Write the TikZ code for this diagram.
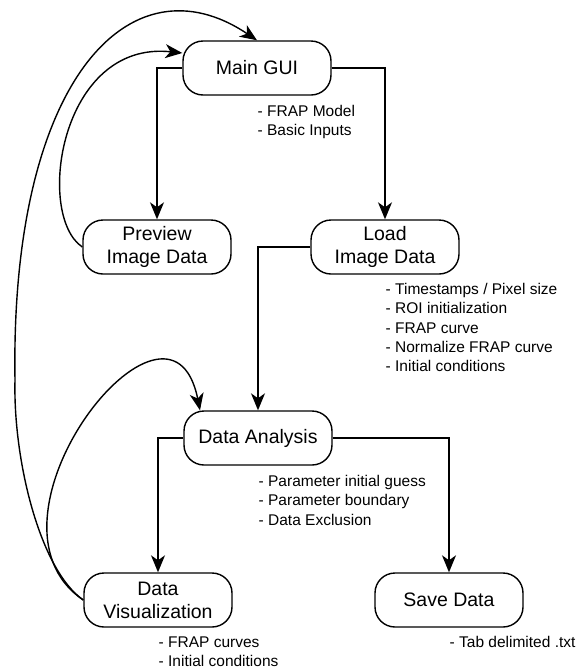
\documentclass[tikz,border=0pt]{standalone}
\usepackage{fontspec}
\setmainfont{Liberation Sans}
\usetikzlibrary{arrows.meta}

\begin{document}
\begin{tikzpicture}[x=1pt,y=1pt,->,>={Stealth[length=17pt,width=14pt,inset=5pt]},
                    line width=1.4pt]
  \tikzstyle{block}=[draw,rounded corners=20pt,minimum width=148pt,minimum height=54pt,
                     align=center,inner sep=0pt,font=\fontsize{19.5}{23}\selectfont]
  \tikzstyle{notes}=[anchor=north west,align=left,inner sep=0pt,
                     font=\fontsize{15.5}{19.3}\selectfont]
  \tikzstyle{elbow}=[to path={-| (\tikztotarget)}]

  \useasboundingbox (0,0) rectangle (580,-670);

  \node[block] (main) at (257,-68)  {Main GUI};
  \node[block] (prev) at (157,-247) {Preview\\Image Data};
  \node[block] (load) at (385,-247) {Load\\Image Data};
  \node[block] (da)   at (258,-438) {Data Analysis};
  \node[block] (dv)   at (158,-600) {Data\\Visualization};
  \node[block] (save) at (449,-600) {Save Data};

  \node[notes] (mainnotes) at ([yshift=-9pt]main.south) {- FRAP Model\\- Basic Inputs};
  \node[notes] (loadnotes) at ([yshift=-8pt]load.south) {- Timestamps / Pixel size\\- ROI initialization\\- FRAP curve\\- Normalize FRAP curve\\- Initial conditions};
  \node[notes] (danotes)   at ([yshift=-9pt]da.south)   {- Parameter initial guess\\- Parameter boundary\\- Data Exclusion};
  \node[notes] (dvnotes)   at ([yshift=-8pt]dv.south)   {- FRAP curves\\- Initial conditions};
  \node[notes] (savenotes) at ([yshift=-8pt]save.south) {- Tab delimited .txt};

  \coordinate (farleft) at (15,-380);

  \path (main.west) edge[elbow] (prev.north)
        (main.east) edge[elbow] (load.north)
        (load.west) edge[elbow] (da.north)
        (da.west)   edge[elbow] (dv.north)
        (da.east)   edge[elbow] (save.north);

  % loops back
  \draw (prev.west) .. controls (35,-215) and (60,-40) .. ([yshift=15pt]main.west);
  \draw (dv.west) .. controls (40,-570) and (13,-460) .. (farleft)
                  .. controls (10,-80) and (130,45) .. (main.north);
  \draw (dv.west) .. controls (-35,-520) and (170,-260) .. ([xshift=-58pt]da.north);
\end{tikzpicture}
\end{document}
